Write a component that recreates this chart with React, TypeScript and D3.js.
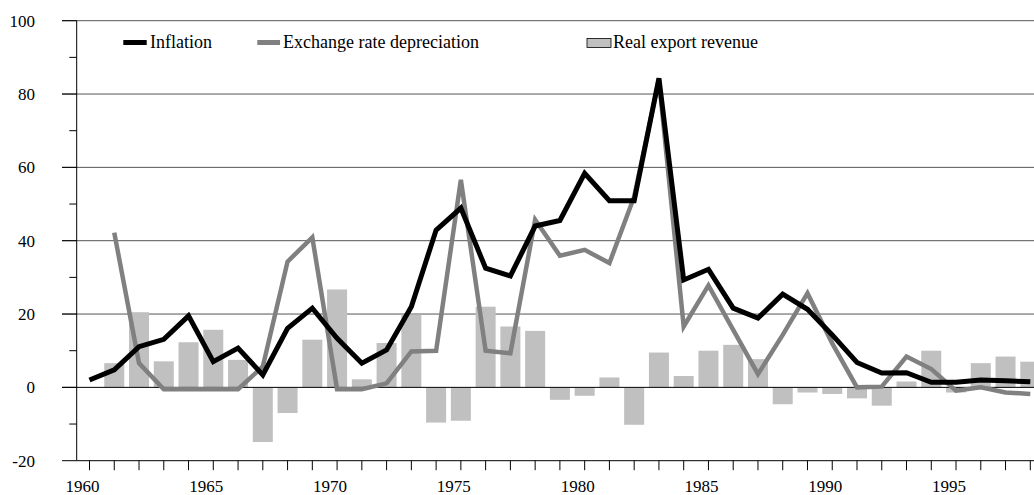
// Inflation, exchange rate depreciation and real export revenue, 1960-1998.

import * as d3 from "d3";

const years = d3.range(1960, 1999);

const inflation = [
  2.0, 4.8, 11.1, 13.1, 19.5, 7.0, 10.7, 3.4, 16.1, 21.6, 13.4, 6.6, 10.2,
  22.0, 42.9, 48.9, 32.5, 30.4, 44.0, 45.5, 58.4, 50.9, 50.9, 84.3, 29.3, 32.2,
  21.6, 18.9, 25.4, 21.3, 14.3, 6.8, 3.9, 4.0, 1.4, 1.4, 2.0, 1.8, 1.5,
];

// starts in 1961
const depreciation = [
  null, 42.2, 6.6, -0.5, -0.5, -0.5, -0.5, 5.7, 34.3, 40.9, -0.5, -0.5, 1.1,
  9.8, 10.0, 56.6, 10.0, 9.3, 45.7, 35.9, 37.5, 33.9, 52.0, 84.0, 16.6, 27.8,
  15.7, 3.6, 14.3, 25.7, 12.0, 0.0, 0.2, 8.4, 5.0, -0.9, 0.0, -1.4, -1.8,
];

const exportRevenue = [
  null, 6.6, 20.5, 7.1, 12.3, 15.7, 7.5, -14.9, -7.0, 13.0, 26.7, 2.2, 12.1,
  19.8, -9.6, -9.1, 22.0, 16.6, 15.4, -3.4, -2.3, 2.7, -10.2, 9.5, 3.1, 10.0,
  11.6, 7.7, -4.6, -1.4, -1.8, -3.0, -5.0, 1.6, 10.0, -1.4, 6.6, 8.4, 7.0,
];

const yTicks = [-20, 0, 20, 40, 60, 80, 100];
const yMinor = [-10, 10, 30, 50, 70, 90];
const yearLabels = [1960, 1965, 1970, 1975, 1980, 1985, 1990, 1995];

export default function App() {
  const width = 1034;
  const height = 495;
  const axisX = 76.7;
  const gridLeft = 62;
  const right = 1034;
  const font = "'Liberation Serif', 'Times New Roman', serif";

  const x = d3.scaleLinear([1960, 1998], [89.5, 1030.3]);
  const y = d3.scaleLinear([-20, 100], [460.7, 20.7]);
  const barW = 20;

  const line = d3
    .line<number | null>()
    .defined((d) => d !== null)
    .x((d, i) => x(years[i]))
    .y((d) => y(d as number));

  const axisText = { fontFamily: font, fontSize: "17px" };
  const legendText = { fontFamily: font, fontSize: "18px" };

  return (
    <svg
      width={width}
      height={height}
      style={{ position: "absolute", left: 0, top: 0, fontFamily: font }}
    >
      {/* gridlines */}
      {yTicks
        .filter((t) => t > 0)
        .map((t) => (
          <line
            key={t}
            x1={gridLeft}
            x2={right}
            y1={y(t)}
            y2={y(t)}
            stroke="#555"
            strokeWidth={1}
          />
        ))}

      {/* bars */}
      <g fill="#c0c0c0">
        {exportRevenue.map((d, i) =>
          d === null ? null : (
            <rect
              key={i}
              x={x(years[i]) - barW / 2}
              width={barW}
              y={y(Math.max(0, d))}
              height={Math.abs(y(d) - y(0))}
            />
          ),
        )}
      </g>

      {/* zero line above bars */}
      <line x1={gridLeft} x2={right} y1={y(0)} y2={y(0)} stroke="#000" />

      <path
        d={line(depreciation) || ""}
        fill="none"
        stroke="#808080"
        strokeWidth={4.5}
      />
      <path
        d={line(inflation) || ""}
        fill="none"
        stroke="#000"
        strokeWidth={5}
      />

      {/* y axis */}
      <line x1={axisX} x2={axisX} y1={y(100)} y2={y(-20)} stroke="#000" />
      {yTicks.map((t) => (
        <g key={t}>
          <line
            x1={gridLeft}
            x2={axisX}
            y1={y(t)}
            y2={y(t)}
            stroke="#000"
          />
          <text x={35} y={y(t) + 6} textAnchor="end" style={axisText}>
            {t}
          </text>
        </g>
      ))}
      {yMinor.map((t) => (
        <line
          key={t}
          x1={69.3}
          x2={axisX}
          y1={y(t)}
          y2={y(t)}
          stroke="#000"
        />
      ))}

      {/* x axis */}
      <line x1={axisX} x2={right} y1={y(-20)} y2={y(-20)} stroke="#000" />
      {years.map((yr) => (
        <line
          key={yr}
          x1={x(yr)}
          x2={x(yr)}
          y1={y(-20)}
          y2={y(-20) + 9.5}
          stroke="#000"
        />
      ))}
      {yearLabels.map((yr) => (
        <text
          key={yr}
          x={x(yr) - 7}
          y={492}
          textAnchor="middle"
          style={axisText}
        >
          {yr}
        </text>
      ))}

      {/* legend */}
      <rect x={123.3} y={40} width={23.4} height={5} fill="#000" />
      <text x={150} y={48} style={legendText}>
        Inflation
      </text>
      <rect x={257.3} y={40} width={22.7} height={5} fill="#808080" />
      <text x={283} y={48} style={legendText}>
        Exchange rate depreciation
      </text>
      <rect
        x={587}
        y={38.5}
        width={24}
        height={9}
        fill="#c0c0c0"
        stroke="#000"
        strokeWidth={0.8}
      />
      <text x={613} y={48} style={legendText}>
        Real export revenue
      </text>
    </svg>
  );
}
